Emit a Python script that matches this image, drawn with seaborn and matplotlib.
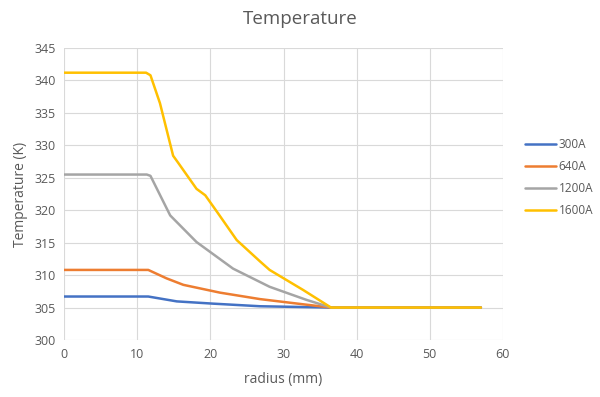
import numpy as np
import pandas as pd
import matplotlib
matplotlib.use("Agg")
import matplotlib.pyplot as plt
import seaborn as sns

# Dados (raio em mm, temperatura em K)
r_300 = [0, 11.5, 15.4, 20.4, 26.8, 36.5, 57]
t_300 = [306.7, 306.7, 305.95, 305.6, 305.2, 305.0, 305.0]

r_640 = [0, 11.5, 14.0, 16.3, 21.3, 26.8, 32.7, 36.5, 57]
t_640 = [310.8, 310.8, 309.5, 308.5, 307.3, 306.3, 305.5, 305.0, 305.0]

r_1200 = [0, 11.3, 11.8, 14.5, 18.1, 23.1, 28.1, 33.1, 36.5, 57]
t_1200 = [325.5, 325.5, 325.3, 319.2, 315.1, 311.0, 308.2, 306.2, 305.0, 305.0]

r_1600 = [0, 11.2, 11.8, 13.1, 14.9, 15.6, 18.1, 19.3, 21.0, 23.6, 26.8, 28.1, 32.7, 36.5, 57]
t_1600 = [341.2, 341.2, 340.8, 336.5, 328.4, 327.3, 323.3, 322.3, 319.6, 315.4, 312.1, 310.8, 307.7, 305.0, 305.0]

series = ["300A", "640A", "1200A", "1600A"]
cores = ["#4472C4", "#ED7D31", "#A5A5A5", "#FFC000"]

frames = []
for nome, r, t in zip(series, [r_300, r_640, r_1200, r_1600], [t_300, t_640, t_1200, t_1600]):
    frames.append(pd.DataFrame({"radius": r, "temp": t, "serie": nome}))
df = pd.concat(frames, ignore_index=True)

sns.set_style("white")
plt.rcParams["font.family"] = ["Open Sans", "DejaVu Sans"]
cinza = "#595959"

fig = plt.figure(figsize=(6, 3.97), dpi=100)
ax = fig.add_axes([0.107, 0.1436, 0.731, 0.7354])

sns.lineplot(data=df, x="radius", y="temp", hue="serie", hue_order=series,
             palette=cores, linewidth=1.8, ax=ax, sort=False, legend=False)

ax.set_xlim(0, 60)
ax.set_ylim(300, 345)
ax.set_xticks(np.arange(0, 61, 10))
ax.set_yticks(np.arange(300, 346, 5))
ax.grid(True, color="#D9D9D9", linewidth=0.8)
for lado in ax.spines.values():
    lado.set_visible(False)
ax.tick_params(length=0, labelsize=9, colors=cinza, pad=6)

ax.set_xlabel("radius (mm)", fontsize=10, color=cinza, labelpad=8)
ax.set_ylabel("Temperature (K)", fontsize=10, color=cinza, labelpad=5)
fig.suptitle("Temperature", fontsize=13.5, color=cinza, y=0.975)

# Legenda fora da área do gráfico, à direita
handles = [plt.Line2D([], [], color=c, linewidth=1.8) for c in cores]
fig.legend(handles, series, loc="center left", bbox_to_anchor=(0.862, 0.553),
           frameon=False, fontsize=8.5, labelcolor=cinza, handlelength=2.6,
           handletextpad=0.2, labelspacing=0.75, borderpad=0.2)

fig.savefig("out.png", dpi=100)
